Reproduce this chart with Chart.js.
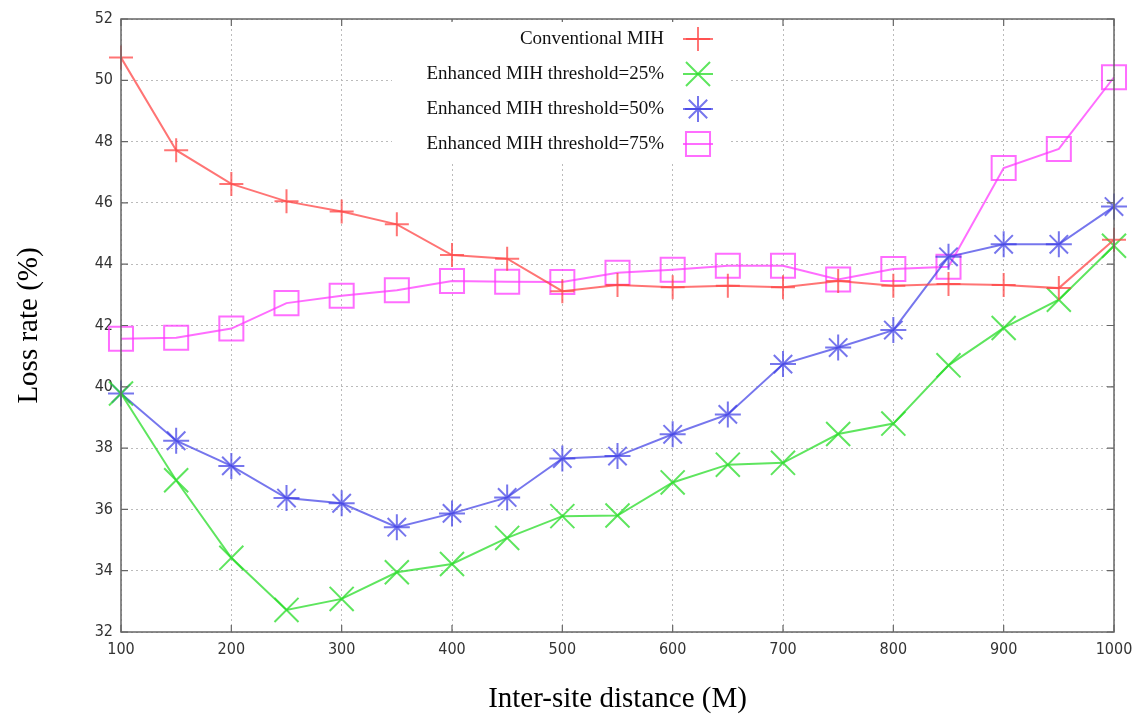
<!DOCTYPE html>
<html>
<head>
<meta charset="utf-8">
<script src="https://cdn.jsdelivr.net/npm/chart.js@4.4.1/dist/chart.umd.min.js"></script>
<style>
  html, body { margin: 0; padding: 0; background: #fff; }
  #wrap { width: 1138px; height: 717px; position: relative; }
</style>
</head>
<body>
<div id="wrap"><canvas id="lossChart" width="1138" height="717"></canvas></div>
<script>
// --- data ---
const distances = [100, 150, 200, 250, 300, 350, 400, 450, 500, 550, 600, 650, 700, 750, 800, 850, 900, 950, 1000];
const conventional = [50.74, 47.72, 46.62, 46.05, 45.72, 45.3, 44.3, 44.18, 43.12, 43.32, 43.25, 43.3, 43.25, 43.45, 43.3, 43.35, 43.32, 43.22, 44.8];
const enhanced25 = [39.78, 36.95, 34.42, 32.72, 33.08, 33.95, 34.22, 35.07, 35.78, 35.8, 36.88, 37.46, 37.52, 38.46, 38.8, 40.7, 41.92, 42.84, 44.6];
const enhanced50 = [39.78, 38.24, 37.42, 36.37, 36.2, 35.42, 35.87, 36.39, 37.66, 37.74, 38.45, 39.1, 40.74, 41.28, 41.85, 44.24, 44.65, 44.65, 45.88];
const enhanced75 = [41.57, 41.6, 41.9, 42.73, 42.97, 43.15, 43.45, 43.43, 43.42, 43.72, 43.82, 43.95, 43.95, 43.5, 43.84, 43.92, 47.14, 47.76, 50.1];
const seriesLabels = ['Conventional MIH', 'Enhanced MIH threshold=25%', 'Enhanced MIH threshold=50%', 'Enhanced MIH threshold=75%'];
const yTicks = [32, 34, 36, 38, 40, 42, 44, 46, 48, 50, 52];
const xTicks = [100, 200, 300, 400, 500, 600, 700, 800, 900, 1000];

const PLOT = { left: 121, top: 14, right: 1114, bottom: 632 };
const tickFont = { family: '"DejaVu Sans Condensed", "DejaVu Sans", sans-serif', size: 16 };

function toPoints(values) {
    return distances.map((d, i) => ({ x: d, y: values[i] }));
}

function makeSet(label, values, color, style, radius) {
    return {
        label: label,
        data: toPoints(values),
        borderColor: color,
        backgroundColor: 'rgba(0,0,0,0)',
        borderWidth: 2,
        pointStyle: style,
        pointRadius: radius,
        pointBorderColor: color,
        pointBorderWidth: 2,
        pointBackgroundColor: 'rgba(0,0,0,0)',
        tension: 0,
        fill: false,
        clip: false
    };
}

// frame, inward tick marks and the opaque key, gnuplot style
const framePlugin = {
    id: 'frame',
    afterDatasetsDraw(chart) {
        const ctx = chart.ctx;
        const a = chart.chartArea;
        const xs = chart.scales.x, ys = chart.scales.y;
        ctx.save();
        ctx.strokeStyle = '#666';
        ctx.lineWidth = 1.5;
        ctx.strokeRect(a.left, a.top, a.right - a.left, a.bottom - a.top);
        ctx.lineWidth = 1.2;
        ctx.beginPath();
        xTicks.forEach(v => {
            const px = xs.getPixelForValue(v);
            ctx.moveTo(px, a.bottom); ctx.lineTo(px, a.bottom - 7);
            ctx.moveTo(px, a.top); ctx.lineTo(px, a.top + 7);
        });
        yTicks.forEach(v => {
            const py = ys.getPixelForValue(v);
            ctx.moveTo(a.left, py); ctx.lineTo(a.left + 7, py);
            ctx.moveTo(a.right, py); ctx.lineTo(a.right - 7, py);
        });
        ctx.stroke();

        // key
        ctx.fillStyle = '#fff';
        ctx.fillRect(392, 22, 336, 140);
        ctx.font = '19px "Liberation Serif", "Times New Roman", serif';
        ctx.textAlign = 'right';
        ctx.textBaseline = 'middle';
        chart.data.datasets.forEach((ds, i) => {
            const yy = 39 + i * 35;
            ctx.fillStyle = '#111';
            ctx.fillText(ds.label, 664, yy);
            ctx.strokeStyle = ds.borderColor;
            ctx.fillStyle = 'rgba(0,0,0,0)';
            ctx.lineWidth = 2;
            ctx.beginPath();
            ctx.moveTo(683, yy); ctx.lineTo(713, yy);
            ctx.stroke();
            Chart.helpers.drawPoint(ctx, {
                pointStyle: ds.pointStyle,
                radius: ds.pointRadius,
                borderWidth: 2,
                rotation: 0
            }, 698, yy);
        });
        ctx.restore();
    }
};

const ctx = document.getElementById('lossChart').getContext('2d');
new Chart(ctx, {
    type: 'line',
    data: {
        datasets: [
            makeSet(seriesLabels[0], conventional, 'rgba(255,70,70,0.75)', 'cross', 12),
            makeSet(seriesLabels[1], enhanced25, 'rgba(40,220,40,0.75)', 'crossRot', 17),
            makeSet(seriesLabels[2], enhanced50, 'rgba(60,60,230,0.7)', 'star', 13),
            makeSet(seriesLabels[3], enhanced75, 'rgba(255,60,255,0.75)', 'rect', 17)
        ]
    },
    plugins: [framePlugin],
    options: {
        responsive: false,
        animation: false,
        devicePixelRatio: 1,
        layout: { padding: { left: 0, top: PLOT.top, right: 1138 - PLOT.right, bottom: 0 } },
        plugins: { legend: { display: false }, tooltip: { enabled: false } },
        scales: {
            x: {
                type: 'linear',
                min: 100,
                max: 1000,
                afterFit(scale) {
                    scale.height = 717 - PLOT.bottom;
                    scale.paddingLeft = 0;
                    scale.paddingRight = 0;
                },
                afterBuildTicks(scale) { scale.ticks = xTicks.map(v => ({ value: v })); },
                grid: { color: '#bbb', lineWidth: 1, drawTicks: false },
                border: { display: false, dash: [2, 3] },
                ticks: {
                    padding: 8,
                    color: '#333',
                    font: tickFont,
                    maxRotation: 0,
                    autoSkip: false,
                    callback: v => String(v)
                },
                title: {
                    display: true,
                    text: 'Inter-site distance (M)',
                    color: '#000',
                    font: { family: '"Liberation Serif", "Times New Roman", serif', size: 29 },
                    padding: { top: 12, bottom: 0 }
                }
            },
            y: {
                min: 32,
                max: 52,
                afterFit(scale) {
                    scale.width = PLOT.left;
                    scale.paddingTop = 0;
                    scale.paddingBottom = 0;
                },
                afterBuildTicks(scale) { scale.ticks = yTicks.map(v => ({ value: v })); },
                grid: { color: '#bbb', lineWidth: 1, drawTicks: false },
                border: { display: false, dash: [2, 3] },
                ticks: {
                    padding: 8,
                    color: '#333',
                    font: tickFont,
                    callback: v => String(v)
                },
                title: {
                    display: true,
                    text: 'Loss rate (%)',
                    color: '#000',
                    font: { family: '"Liberation Serif", "Times New Roman", serif', size: 29 },
                    padding: { top: 12, bottom: 0 }
                }
            }
        }
    }
});
</script>
</body>
</html>
